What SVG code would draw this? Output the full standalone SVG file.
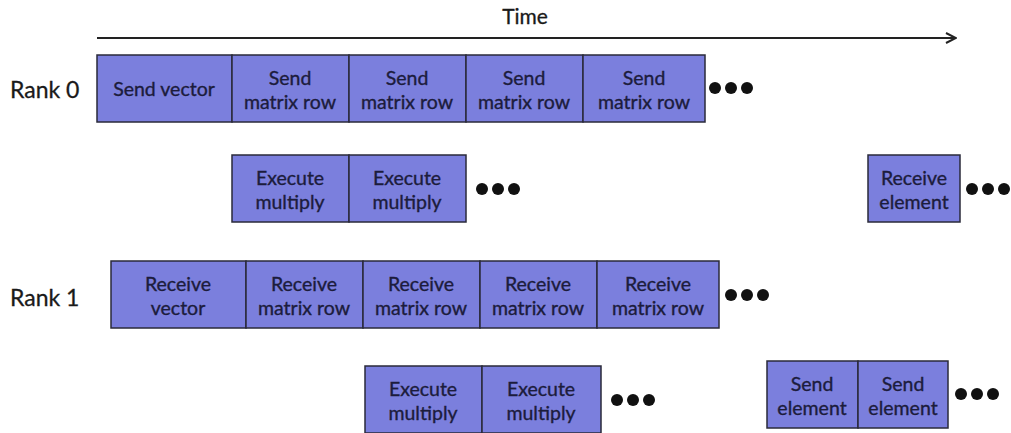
<svg xmlns="http://www.w3.org/2000/svg" width="1011" height="433" viewBox="0 0 1011 433">
<style>
.b{fill:#7b7fdd;stroke:#2a2a3a;stroke-width:1.5}
.t{font-family:Lato,"Open Sans",sans-serif;font-size:19.5px;fill:#1c1c3c;stroke:#1c1c3c;stroke-width:0.35;text-anchor:middle}
.l{font-family:Lato,"Open Sans",sans-serif;font-size:23px;fill:#1a1a1a;stroke:#1a1a1a;stroke-width:0.3}
.d{fill:#111}
</style>
<defs>
<marker id="ah" viewBox="0 0 12 12" refX="11" refY="6" markerWidth="12" markerHeight="12" markerUnits="userSpaceOnUse" orient="auto">
<path d="M1,1 L11,6 L1,11" fill="none" stroke="#222" stroke-width="2"/>
</marker>
<g id="dots"><circle cx="0" cy="0" r="6" class="d"/><circle cx="16" cy="0" r="6" class="d"/><circle cx="32" cy="0" r="6" class="d"/></g>
</defs>
<rect width="1011" height="433" fill="#fff"/>
<g id="connectors">
<line x1="97" y1="38" x2="956" y2="38" stroke="#222" stroke-width="2.2" marker-end="url(#ah)"/>
</g>
<g id="labels">
<text x="525" y="24" class="l" text-anchor="middle" style="font-size:21px">Time</text>
<text x="10" y="98" class="l">Rank 0</text>
<text x="10" y="306" class="l">Rank 1</text>
</g>
<g id="rank0-send">
<rect x="97" y="55" width="135" height="67" class="b"/><text x="164" y="96" class="t">Send vector</text>
<rect x="232" y="55" width="117" height="67" class="b"/><text x="290" y="85" class="t">Send</text><text x="290" y="109" class="t">matrix row</text>
<rect x="349" y="55" width="117" height="67" class="b"/><text x="407" y="85" class="t">Send</text><text x="407" y="109" class="t">matrix row</text>
<rect x="466" y="55" width="117" height="67" class="b"/><text x="524" y="85" class="t">Send</text><text x="524" y="109" class="t">matrix row</text>
<rect x="583" y="55" width="122" height="67" class="b"/><text x="644" y="85" class="t">Send</text><text x="644" y="109" class="t">matrix row</text>
<use href="#dots" x="715" y="88"/>
</g>
<g id="rank0-exec">
<rect x="232" y="155" width="117" height="67" class="b"/><text x="290" y="185" class="t">Execute</text><text x="290" y="209" class="t">multiply</text>
<rect x="349" y="155" width="117" height="67" class="b"/><text x="407" y="185" class="t">Execute</text><text x="407" y="209" class="t">multiply</text>
<use href="#dots" x="482" y="189"/>
</g>
<g id="rank0-recv">
<rect x="868" y="155" width="92" height="67" class="b"/><text x="914" y="185" class="t">Receive</text><text x="914" y="209" class="t">element</text>
<use href="#dots" x="972" y="189"/>
</g>
<g id="rank1-recv">
<rect x="111" y="261" width="135" height="67" class="b"/><text x="178" y="291" class="t">Receive</text><text x="178" y="315" class="t">vector</text>
<rect x="246" y="261" width="117" height="67" class="b"/><text x="304" y="291" class="t">Receive</text><text x="304" y="315" class="t">matrix row</text>
<rect x="363" y="261" width="117" height="67" class="b"/><text x="421" y="291" class="t">Receive</text><text x="421" y="315" class="t">matrix row</text>
<rect x="480" y="261" width="117" height="67" class="b"/><text x="538" y="291" class="t">Receive</text><text x="538" y="315" class="t">matrix row</text>
<rect x="597" y="261" width="122" height="67" class="b"/><text x="658" y="291" class="t">Receive</text><text x="658" y="315" class="t">matrix row</text>
<use href="#dots" x="731" y="295"/>
</g>
<g id="rank1-exec">
<rect x="365" y="366" width="117" height="67" class="b"/><text x="423" y="396" class="t">Execute</text><text x="423" y="420" class="t">multiply</text>
<rect x="482" y="366" width="119" height="67" class="b"/><text x="541" y="396" class="t">Execute</text><text x="541" y="420" class="t">multiply</text>
<use href="#dots" x="617" y="400"/>
</g>
<g id="rank1-send">
<rect x="767" y="361" width="91" height="67" class="b"/><text x="812" y="391" class="t">Send</text><text x="812" y="415" class="t">element</text>
<rect x="858" y="361" width="90" height="67" class="b"/><text x="903" y="391" class="t">Send</text><text x="903" y="415" class="t">element</text>
<use href="#dots" x="961" y="394"/>
</g>
</svg>
